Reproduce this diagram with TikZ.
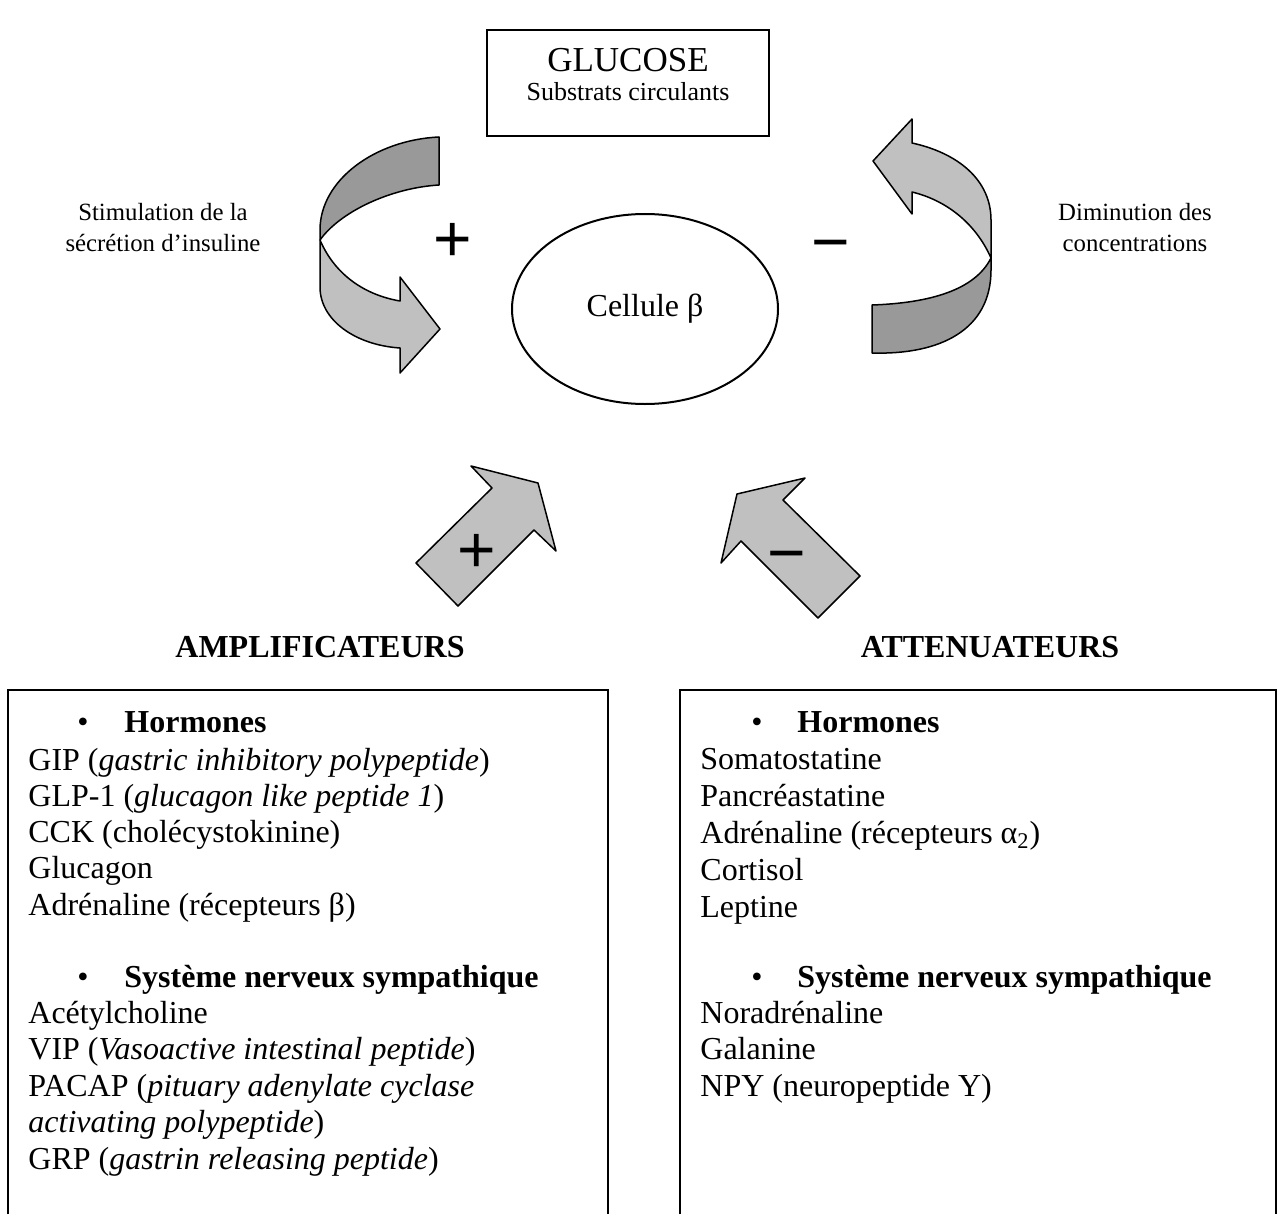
\documentclass[tikz,border=0pt]{standalone}
\usepackage{fontspec}
\setmainfont{Liberation Serif}
\newfontfamily\signfont{Liberation Sans}
\usetikzlibrary{shapes.geometric}
\definecolor{bandlight}{RGB}{192,192,192}
\definecolor{banddark}{RGB}{153,153,153}
\newcommand{\bodysize}{\fontsize{16}{18}\selectfont}
\begin{document}
\begin{tikzpicture}[x=0.5pt,y=-0.5pt,
  frame/.style={draw=black,line width=1pt},
  ribbon/.style={draw=black,line width=0.75pt,line join=round},
  sign/.style={inner sep=0pt,font=\signfont\fontsize{33}{36}\selectfont},
  item/.style={anchor=base west,inner sep=0pt,font=\bodysize},
  head/.style={item,font=\bodysize\bfseries},
  bullet/.style={anchor=base,inner sep=0pt,font=\bodysize},
  title/.style={anchor=base,inner sep=0pt,font=\bodysize\bfseries},
  sidelabel/.style={align=center,inner sep=0pt,font=\fontsize{12.4}{15.5}\selectfont}]
\useasboundingbox (0,0) rectangle (1278,1214);

% glucose box and beta cell
\node[frame,minimum width=141pt,minimum height=53pt,inner sep=0pt] (glucose) at (628,83) {};
\node[anchor=base,inner sep=0pt,font=\fontsize{17.5}{20}\selectfont] (gl) at (628,71.5) {GLUCOSE};
\node[anchor=base,inner sep=0pt,font=\fontsize{13}{15}\selectfont] (sub) at (628,101) {Substrats circulants};
\node[frame,ellipse,minimum width=133pt,minimum height=95pt,font=\bodysize] (cell) at (645,309) {Cellule β};

% left curved arrow (stimulation)
\filldraw[ribbon,fill=bandlight] (320,240) .. controls (335,275) and (365,295) .. (400,301)
  -- (400,277) -- (440,329) -- (400,373) -- (400,348)
  .. controls (355,345) and (320,320) .. (320,287) -- cycle;
\filldraw[ribbon,fill=banddark] (439,137) .. controls (375,140) and (320,180) .. (320,230)
  -- (320,240) .. controls (340,212) and (390,188) .. (439,185) -- cycle;

% right curved arrow (feedback)
\filldraw[ribbon,fill=bandlight] (912,143) .. controls (958,153) and (991,180) .. (991,220)
  -- (991,258) .. controls (975,222) and (945,200) .. (912,192)
  -- (912,214) -- (873,161) -- (912,119) -- cycle;
\filldraw[ribbon,fill=banddark] (991,258) .. controls (975,290) and (930,303) .. (872,305)
  -- (872,353) .. controls (940,355) and (991,330) .. (991,270) -- cycle;

% block arrows from the two groups
\filldraw[ribbon,fill=bandlight] (416,563) -- (492,488) -- (471,466) -- (538,483)
  -- (556,551) -- (534,530) -- (458,606) -- cycle;
\filldraw[ribbon,fill=bandlight] (737,494) -- (805,478) -- (783,500) -- (860,576)
  -- (818,618) -- (741,541) -- (721,563) -- cycle;

% signs
\node[sign] (plusL) at (453,242) {+};
\node[sign] (minusR) at (831,252) {−};
\node[sign] (plusB) at (477,553) {+};
\node[sign] (minusB) at (787,563) {−};

% side labels
\node[sidelabel] (stim) at (163,228) {Stimulation de la\\sécrétion d’insuline};
\node[sidelabel] (dimi) at (1135,228) {Diminution des\\concentrations};

% group titles
\node[title] (amp) at (320,657) {AMPLIFICATEURS};
\node[title] (att) at (990,657) {ATTENUATEURS};

% list frames, open at the bottom
\draw[frame] (8,1214) -- (8,690) -- (608,690) -- (608,1214);
\draw[frame] (680,1214) -- (680,690) -- (1276,690) -- (1276,1214);

% amplifiers
\node[bullet] at (83,732) {•};
\node[head] (lh1) at (124,732) {Hormones};
\node[item] at (28,770) {GIP (\textit{gastric inhibitory polypeptide})};
\node[item] at (28,806) {GLP-1 (\textit{glucagon like peptide 1})};
\node[item] at (28,842) {CCK (cholécystokinine)};
\node[item] at (28,878) {Glucagon};
\node[item] at (28,915) {Adrénaline (récepteurs β)};
\node[bullet] at (83,987) {•};
\node[head] (lh2) at (124,987) {Système nerveux sympathique};
\node[item] at (28,1023) {Acétylcholine};
\node[item] at (28,1059) {VIP (\textit{Vasoactive intestinal peptide})};
\node[item] at (28,1096) {PACAP (\textit{pituary adenylate cyclase}};
\node[item] at (28,1132) {\textit{activating polypeptide})};
\node[item] at (28,1169) {GRP (\textit{gastrin releasing peptide})};

% attenuators
\node[bullet] at (757,732) {•};
\node[head] (rh1) at (797,732) {Hormones};
\node[item] at (700,769) {Somatostatine};
\node[item] at (700,806) {Pancréastatine};
\node[item] at (700,843) {Adrénaline (récepteurs α\textsubscript{2})};
\node[item] at (700,880) {Cortisol};
\node[item] at (700,917) {Leptine};
\node[bullet] at (757,987) {•};
\node[head] (rh2) at (797,987) {Système nerveux sympathique};
\node[item] at (700,1023) {Noradrénaline};
\node[item] at (700,1059) {Galanine};
\node[item] at (700,1096) {NPY (neuropeptide Y)};
\end{tikzpicture}
\end{document}
